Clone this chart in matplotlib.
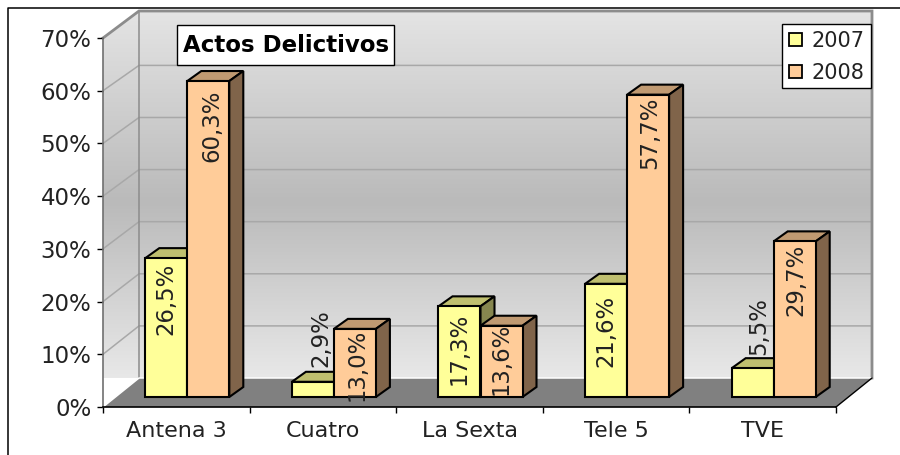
import numpy as np
import matplotlib
matplotlib.use("Agg")
import matplotlib.pyplot as plt
from matplotlib.patches import Polygon, Rectangle
from matplotlib.colors import LinearSegmentedColormap

categories = ["Antena 3", "Cuatro", "La Sexta", "Tele 5", "TVE"]
series_names = ["2007", "2008"]
values_2007 = [26.5, 2.9, 17.3, 21.6, 5.5]
values_2008 = [60.3, 13.0, 13.6, 57.7, 29.7]
y_ticks = [0, 10, 20, 30, 40, 50, 60, 70]
title = "Actos Delictivos"
# vertical shift of each data label centre from its bar top, in px (down is positive)
label_shift_2007 = [41, -44, 43, 47, -42]
label_shift_2008 = [45, 36, 33, 38.5, 39]
label_dx_2007 = [0, 8, 0, 0, 6]
label_dx_2008 = [4, 2, 0, 2, 1]

W, H = 900, 455
FS = 16
TXT = "#222222"
plt.rcParams["font.family"] = "DejaVu Sans"
fig = plt.figure(figsize=(W / 100, H / 100), dpi=100, facecolor="white")


def px_axes(x0, x1, ytop, ybot, **kw):
    return fig.add_axes([x0 / W, 1 - ybot / H, (x1 - x0) / W, (ybot - ytop) / H], **kw)


# ---- chrome: pixel-space layer (border, walls, floor)
bg = px_axes(0, W, 0, H)
bg.set_xlim(0, W)
bg.set_ylim(H, 0)
bg.axis("off")
bg.plot([7.5, 7.5, W], [H, 7.5, 7.5], color="black", lw=1.1, solid_capstyle="butt")

FX0, FX1, FY0, FY70 = 103, 836, 407, 38
DX, DY = 36, 29
BACK_TOP = 11
cmap = LinearSegmentedColormap.from_list(
    "w", [(0, "#e4e4e4"), (0.52, "#bababa"), (1, "#e8e8e8")])
grad = np.linspace(0, 1, 256).reshape(-1, 1)
wall = [(FX0, FY0), (FX0 + DX, FY0 - DY), (FX1 + DX, FY0 - DY),
        (FX1 + DX, BACK_TOP), (FX0 + DX, BACK_TOP), (FX0, FY70)]
im = bg.imshow(grad, cmap=cmap, extent=(FX0, FX1 + DX, FY0 - DY, BACK_TOP),
               aspect="auto", vmin=0, vmax=1, zorder=1)
clip = Polygon(wall, closed=True, transform=bg.transData, fc="none", ec="none")
bg.add_patch(clip)
im.set_clip_path(clip)
bg.set_xlim(0, W)
bg.set_ylim(H, 0)

GRID = "#a8a8a8"
for v in y_ticks[1:-1]:
    y = FY0 - (FY0 - FY70) * v / 70
    yb = (FY0 - DY) - 52.1 * v / 10
    bg.plot([FX0, FX0 + DX, FX1 + DX], [y, yb, yb], color=GRID, lw=1.1, zorder=2)
# wall outline
EDGE = "#8c8c8c"
bg.plot([FX0, FX0 + DX, FX1 + DX, FX1 + DX], [FY70, BACK_TOP, BACK_TOP, FY0 - DY],
        color=EDGE, lw=2.0, zorder=3, solid_joinstyle="miter")
bg.plot([FX0 + DX, FX0 + DX], [BACK_TOP, FY0 - DY], color=EDGE, lw=1.1, zorder=3)
# floor
bg.add_patch(Polygon([(FX0, FY0), (FX1, FY0), (FX1 + DX, FY0 - DY), (FX0 + DX, FY0 - DY)],
                     closed=True, fc="#808080", ec="none", zorder=4))
bg.plot([FX0, FX0 + DX, FX1 + DX], [FY0, FY0 - DY, FY0 - DY], color="white", lw=1.1, zorder=5)
bg.plot([FX1, FX1 + DX], [FY0, FY0 - DY], color="black", lw=1.0, zorder=5)

# ---- value axis and category axis (front plane)
ax = px_axes(FX0, FX1, FY70, FY0)
ax.patch.set_alpha(0)
ax.set_xlim(0, len(categories))
ax.set_ylim(0, 70)
for s in ("top", "right"):
    ax.spines[s].set_visible(False)
ax.spines["left"].set_color("#707070")
ax.spines["left"].set_linewidth(1.2)
ax.spines["bottom"].set_color("black")
ax.spines["bottom"].set_linewidth(1.2)
ax.set_yticks(y_ticks)
ax.set_yticklabels([f"{v}%" for v in y_ticks], fontsize=FS + 0.5, color=TXT)
ax.set_xticks(range(len(categories) + 1))
ax.set_xticklabels([])
ax.set_xticks(np.arange(len(categories)) + 0.5, minor=True)
ax.set_xticklabels(categories, minor=True, fontsize=FS, color=TXT)
ax.tick_params(axis="x", which="minor", length=0, pad=10)
ax.tick_params(axis="x", which="major", length=4.3, width=1, color="black")
ax.tick_params(axis="y", length=4.3, width=1, color="black", pad=4)

# ---- bars, in their own plane slightly in from the front
bx = px_axes(114, 847, 397 - 70 * 5.24, 397)
bx.patch.set_alpha(0)
bx.axis("off")
bx.set_xlim(0, len(categories))
bx.set_ylim(0, 70)
px_x = 733 / len(categories)
px_y = 5.24
bw = 42 / px_x
ddx, ddy = 14 / px_x, 10 / px_y
LW = 1.5
styles = [("#ffff99", "#bfbf6f", "#86864f"), ("#ffcc99", "#c09a72", "#80644a")]
centers = np.arange(len(categories)) + 0.5
z = 3
handles = []
for i in range(len(categories)):
    for j, vals in enumerate((values_2007, values_2008)):
        front, top, side = styles[j]
        left = centers[i] + (j - 1) * bw
        v = vals[i]
        kw = dict(ec="black", lw=LW, joinstyle="miter", clip_on=False)
        bx.add_patch(Polygon([(left, v), (left + bw, v), (left + bw + ddx, v + ddy), (left + ddx, v + ddy)],
                             closed=True, fc=top, zorder=z, **kw))
        bx.add_patch(Polygon([(left + bw, 0), (left + bw + ddx, ddy), (left + bw + ddx, v + ddy), (left + bw, v)],
                             closed=True, fc=side, zorder=z, **kw))
        b = bx.bar(left, v, width=bw, align="edge", color=front, edgecolor="black",
                   linewidth=LW, zorder=z + 0.5, clip_on=False, label=series_names[j] if i == 0 else None)
        if i == 0:
            handles.append(b[0])
        z += 1

# ---- data labels
for j, (vals, shift, dx) in enumerate(((values_2007, label_shift_2007, label_dx_2007),
                                       (values_2008, label_shift_2008, label_dx_2008))):
    for i, v in enumerate(vals):
        xc = centers[i] + (j - 0.5) * bw
        bx.annotate(f"{v:.1f}%".replace(".", ","), xy=(xc, v), xytext=(dx[i] * 0.72, -shift[i] * 0.72),
                    textcoords="offset points", rotation=90, ha="center", va="center",
                    fontsize=FS + 0.4, color=TXT, zorder=100, annotation_clip=False)

# ---- title box and legend box
bg2 = fig.add_axes([0, 0, 1, 1], zorder=10)
bg2.set_xlim(0, W)
bg2.set_ylim(H, 0)
bg2.axis("off")
bg2.add_patch(Rectangle((177, 25), 217, 40, fc="white", ec="black", lw=1.0))
bg2.text(286.5, 45.5, title, fontsize=FS + 0.5, fontweight="bold", color="black", ha="center", va="center")
bg2.add_patch(Rectangle((782, 23.5), 89, 64, fc="white", ec="black", lw=1.0))

# ---- legend
leg = fig.legend(handles, series_names, loc="upper left",
                 bbox_to_anchor=(789 / W, 1 - 31 / H), bbox_transform=fig.transFigure,
                 frameon=False, fontsize=15, handlelength=0.6, handleheight=0.6, handletextpad=0.5,
                 borderpad=0, labelspacing=0.58, borderaxespad=0, labelcolor=TXT)
leg.set_zorder(20)
for h in leg.legend_handles:
    h.set_linewidth(1.3)

fig.savefig("out.png", dpi=100)
